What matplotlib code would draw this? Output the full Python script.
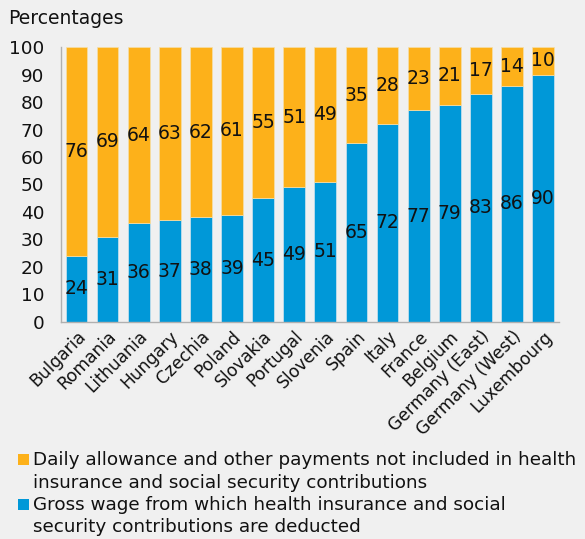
import numpy as np
import matplotlib.pyplot as plt
from matplotlib.patches import Rectangle

countries = ["Bulgaria", "Romania", "Lithuania", "Hungary", "Czechia", "Poland",
             "Slovakia", "Portugal", "Slovenia", "Spain", "Italy", "France",
             "Belgium", "Germany (East)", "Germany (West)", "Luxembourg"]
gross_wage = [24, 31, 36, 37, 38, 39, 45, 49, 51, 65, 72, 77, 79, 83, 86, 90]
daily_allowance = [76, 69, 64, 63, 62, 61, 55, 51, 49, 35, 28, 23, 21, 17, 14, 10]

legend_lines = [
    ["Daily allowance and other payments not included in health",
     "insurance and social security contributions"],
    ["Gross wage from which health insurance and social",
     "security contributions are deducted"],
]

blue = "#0098d8"
orange = "#fdb11a"
bg = "#f0f0f0"
W, H = 585, 539

plt.rcParams["font.family"] = "DejaVu Sans"

fig = plt.figure(figsize=(W / 100, H / 100), dpi=100, facecolor=bg)
ax = fig.add_axes([0.104, 0.4026, 0.851, 0.5102], facecolor=bg)

x = np.arange(len(countries))
ax.bar(x, gross_wage, width=0.7, color=blue, edgecolor="#cfe3ee", linewidth=0.5)
ax.bar(x, daily_allowance, width=0.7, bottom=gross_wage, color=orange,
       edgecolor="#f5dfa8", linewidth=0.5)

for i in range(len(countries)):
    ax.text(x[i], gross_wage[i] / 2, str(gross_wage[i]), ha="center", va="center",
            fontsize=13.5, color="#111111")
    ax.text(x[i], gross_wage[i] + daily_allowance[i] / 2, str(daily_allowance[i]),
            ha="center", va="center", fontsize=13.5, color="#111111")

ax.set_xlim(-0.5, 15.5)
ax.set_ylim(0, 100)
ax.set_yticks(range(0, 101, 10))
ax.tick_params(axis="y", length=0, labelsize=13.3, pad=12, labelcolor="#111111")
ax.tick_params(axis="x", length=0, labelsize=12.3, pad=4, labelcolor="#111111")
ax.set_xticks(x)
ax.set_xticklabels(countries, rotation=45, ha="right", rotation_mode="anchor")

for side in ["top", "right"]:
    ax.spines[side].set_visible(False)
for side in ["left", "bottom"]:
    ax.spines[side].set_color("#b0b0b0")
    ax.spines[side].set_linewidth(1)

fig.text(0.014, 0.965, "Percentages", fontsize=13.5, color="#111111", va="center")

# legend drawn by hand so the swatch sits on the first line of each entry
baselines = [[465, 487.5], [510, 532.5]]
for lines, colour, bl in zip(legend_lines, [orange, blue], baselines):
    fig.patches.append(Rectangle((18 / W, (H - bl[0]) / H), 11 / W, 11 / H,
                                 transform=fig.transFigure, facecolor=colour,
                                 edgecolor="none"))
    for line, y in zip(lines, bl):
        fig.text(33 / W, (H - y) / H, line, fontsize=13.2, color="#111111",
                 va="baseline", ha="left")

fig.savefig("out.png", dpi=100, facecolor=bg)
